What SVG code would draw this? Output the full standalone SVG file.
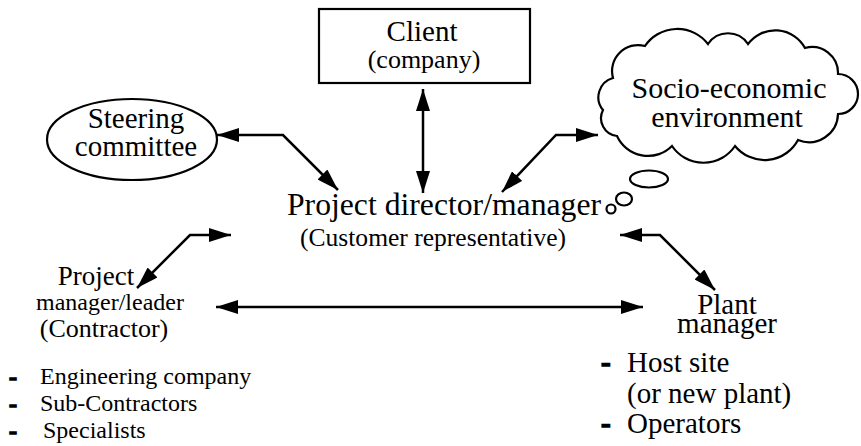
<svg xmlns="http://www.w3.org/2000/svg" width="861" height="446" viewBox="0 0 861 446">
<style>
text{font-family:"Liberation Serif","Times New Roman",serif;fill:#000}
.shape{fill:#fff;stroke:#000;stroke-width:2.2}
.conn{fill:none;stroke:#000;stroke-width:2.5;marker-start:url(#ah);marker-end:url(#ah)}
.dash{font-weight:bold;stroke:#000;stroke-width:1.4}
</style>
<defs>
<marker id="ah" viewBox="0 0 22 14" refX="22" refY="7" markerWidth="22" markerHeight="14" markerUnits="userSpaceOnUse" orient="auto-start-reverse">
<path d="M0,0 L22,7 L0,14 z" fill="#000"/>
</marker>
</defs>
<rect width="861" height="446" fill="#fff"/>
<g id="client">
<rect class="shape" x="319" y="9" width="211" height="74"/>
<text x="422" y="41" font-size="29" text-anchor="middle">Client</text>
<text x="424" y="68" font-size="26" text-anchor="middle">(company)</text>
</g>
<g id="steering">
<ellipse class="shape" cx="132" cy="139.5" rx="85" ry="40.5"/>
<text x="136" y="128" font-size="29" text-anchor="middle">Steering</text>
<text x="136" y="156" font-size="29" text-anchor="middle">committee</text>
</g>
<g id="socio">
<path class="shape" d="M613,78 A26,26 0 0 1 645,46 A39,39 0 0 1 708,44 A24,24 0 0 1 748,44 A34,34 0 0 1 805,48 A26,26 0 0 1 838,74 A20,20 0 0 1 838,114 A29,29 0 0 1 798,140 A38,38 0 0 1 735,146 A38,38 0 0 1 672,146 A34,34 0 0 1 617,136 A18,18 0 0 1 603,110 A20,20 0 0 1 613,78 Z"/>
<ellipse class="shape" cx="649" cy="179" rx="19" ry="8.5"/>
<ellipse class="shape" cx="624" cy="199" rx="8" ry="6.5"/>
<circle class="shape" cx="611" cy="209" r="4.5"/>
<text x="729" y="98" font-size="30" text-anchor="middle">Socio-economic</text>
<text x="727" y="127" font-size="30" text-anchor="middle">environment</text>
</g>
<g id="director">
<text x="287" y="215" font-size="31" textLength="314" lengthAdjust="spacingAndGlyphs">Project director/manager</text>
<text x="300" y="246" font-size="26" textLength="266" lengthAdjust="spacingAndGlyphs">(Customer representative)</text>
</g>
<g id="contractor">
<text x="96" y="285" font-size="27" text-anchor="middle">Project</text>
<text x="110" y="310" font-size="24" text-anchor="middle">manager/leader</text>
<text x="104" y="337" font-size="26" text-anchor="middle">(Contractor)</text>
<text class="dash" x="9" y="385" font-size="24">-</text>
<text x="40" y="384" font-size="24">Engineering company</text>
<text class="dash" x="9" y="412" font-size="24">-</text>
<text x="40" y="411" font-size="24">Sub-Contractors</text>
<text class="dash" x="9" y="439" font-size="24">-</text>
<text x="43" y="438" font-size="24">Specialists</text>
</g>
<g id="plant">
<text x="727" y="314" font-size="29" text-anchor="middle">Plant</text>
<text x="727" y="333" font-size="29" text-anchor="middle">manager</text>
<text class="dash" x="601" y="372" font-size="29">-</text>
<text x="627" y="372" font-size="29">Host site</text>
<text x="627" y="403" font-size="29">(or new plant)</text>
<text class="dash" x="601" y="433" font-size="29">-</text>
<text x="627" y="433" font-size="29">Operators</text>
</g>
<g id="connectors">
<path class="conn" d="M423,89 L423,193"/>
<path class="conn" d="M217,135 L283,135 L338,190"/>
<path class="conn" d="M502,192 L556,135 L598,135"/>
<path class="conn" d="M231,235 L190,235 L137,288"/>
<path class="conn" d="M620,235 L660,235 L715,290"/>
<path class="conn" d="M216,307 L643,307"/>
</g>
</svg>
